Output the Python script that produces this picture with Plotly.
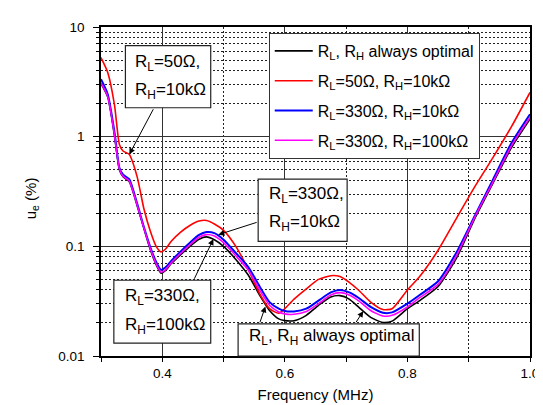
import math
import plotly.graph_objects as go

freq = [0.300, 0.311, 0.322, 0.330, 0.336, 0.346, 0.359, 0.370, 0.380, 0.390, 0.398,
        0.405, 0.415, 0.430, 0.445, 0.460, 0.472, 0.485, 0.500, 0.520, 0.540, 0.560,
        0.575, 0.590, 0.600, 0.615, 0.635, 0.655, 0.675, 0.690, 0.705, 0.720, 0.740,
        0.760, 0.775, 0.800, 0.820, 0.850, 0.880, 0.910, 0.940, 0.970, 1.000]

optimal = [3.05, 2.30, 1.02, 0.50, 0.43, 0.39, 0.235, 0.145, 0.095, 0.068, 0.057,
           0.060, 0.070, 0.084, 0.100, 0.116, 0.122, 0.115, 0.100, 0.076, 0.055, 0.035,
           0.026, 0.0218, 0.021, 0.021, 0.0235, 0.029, 0.0345, 0.0355, 0.033, 0.028, 0.0225,
           0.0202, 0.0208, 0.027, 0.032, 0.043, 0.078, 0.18, 0.38, 0.80, 1.45]

r50_h10k = [5.26, 3.85, 1.95, 0.85, 0.74, 0.69, 0.43, 0.22, 0.14, 0.100, 0.089,
            0.094, 0.112, 0.135, 0.155, 0.170, 0.172, 0.160, 0.140, 0.100, 0.062, 0.036,
            0.027, 0.0245, 0.027, 0.033, 0.041, 0.050, 0.054, 0.053, 0.047, 0.040, 0.031,
            0.0265, 0.027, 0.040, 0.053, 0.092, 0.18, 0.35, 0.65, 1.24, 2.53]

r330_h10k = [3.34, 2.44, 1.10, 0.52, 0.45, 0.41, 0.245, 0.150, 0.100, 0.072, 0.061,
             0.064, 0.074, 0.090, 0.108, 0.127, 0.135, 0.132, 0.115, 0.087, 0.065, 0.042,
             0.031, 0.027, 0.0257, 0.0255, 0.027, 0.032, 0.038, 0.040, 0.038, 0.034, 0.028,
             0.0248, 0.025, 0.030, 0.036, 0.048, 0.088, 0.19, 0.41, 0.88, 1.60]

r330_h100k = [3.08, 2.33, 1.04, 0.51, 0.435, 0.395, 0.238, 0.147, 0.097, 0.069, 0.058,
              0.061, 0.071, 0.086, 0.103, 0.121, 0.128, 0.124, 0.108, 0.082, 0.061, 0.039,
              0.029, 0.0252, 0.0242, 0.024, 0.0255, 0.030, 0.036, 0.0378, 0.036, 0.032, 0.026,
              0.0232, 0.0235, 0.028, 0.034, 0.045, 0.082, 0.185, 0.39, 0.83, 1.50]

series_names = ["R<sub>L</sub>, R<sub>H</sub> always optimal",
                "R<sub>L</sub>=50Ω, R<sub>H</sub>=10kΩ",
                "R<sub>L</sub>=330Ω, R<sub>H</sub>=10kΩ",
                "R<sub>L</sub>=330Ω, R<sub>H</sub>=100kΩ"]
series_colors = ["#000000", "#ff0000", "#0000ff", "#ff00ff"]
series_widths = [1.6, 1.6, 2.0, 1.6]

x_tickvals = [0.4, 0.6, 0.8, 1.0]
x_ticktext = ["0.4", "0.6", "0.8", "1.0"]
y_tickvals = [0.01, 0.1, 1, 10]
y_ticktext = ["0.01", "0.1", "1", "10"]

W, H = 543, 405
ML, MR, MT, MB = 93, 16, 19, 56
PW, PH = W - ML - MR, H - MT - MB
XR = (0.3, 1.0)
YR = (-2.0, 1.0)

FONT = "Arial, Liberation Sans, sans-serif"


def px2data(px, py):
    fx = XR[0] + (px - ML) / PW * (XR[1] - XR[0])
    fy = YR[1] - (py - MT) / PH * (YR[1] - YR[0])
    return fx, fy


def px2paper(px, py):
    return (px - ML) / PW, (H - MB - py) / PH


fig = go.Figure()
for name, vals, col, w in zip(series_names, [optimal, r50_h10k, r330_h10k, r330_h100k],
                              series_colors, series_widths):
    fig.add_trace(go.Scatter(x=freq, y=vals, mode="lines", name=name,
                             line=dict(color=col, width=w, shape="spline", smoothing=0.6),
                             legendgroup=name))

shapes = []
annotations = []

boxes = [
    ((117.7, 37.7, 204, 100),
     [("R<sub>L</sub>=50Ω,", 125, 55), ("R<sub>H</sub>=10kΩ", 125, 83)]),
    ((252, 171.5, 342, 234),
     [("R<sub>L</sub>=330Ω,", 261, 188), ("R<sub>H</sub>=10kΩ", 261, 216)]),
    ((106, 273, 204, 336),
     [("R<sub>L</sub>=330Ω,", 115, 290), ("R<sub>H</sub>=100kΩ", 115, 319)]),
    ((231.7, 316.7, 415, 349),
     [("R<sub>L</sub>, R<sub>H</sub> always optimal", 240.5, 330)]),
]
for (x0, y0, x1, y1), lines in boxes:
    a0 = px2paper(x0, y1)
    a1 = px2paper(x1, y0)
    shapes.append(dict(type="rect", xref="paper", yref="paper",
                       x0=a0[0], y0=a0[1], x1=a1[0], y1=a1[1],
                       line=dict(color="#222", width=1.2), fillcolor="white", layer="above"))
    for txt, tx, ty in lines:
        p = px2paper(tx, ty)
        annotations.append(dict(xref="paper", yref="paper", x=p[0], y=p[1], text=txt,
                                showarrow=False, xanchor="left", yanchor="middle",
                                font=dict(family=FONT, size=17, color="black")))

arrows = [
    ((146.7, 100), (121.7, 146.7)),
    ((252, 214.5), (211.7, 227.3)),
    ((186.7, 273), (206.7, 231.7)),
    ((253.3, 316.7), (259.3, 299.3)),
    ((350, 316.7), (358.3, 304)),
]
for (tx, ty), (hx, hy) in arrows:
    hxd, hyd = px2data(hx, hy)
    txd, tyd = px2data(tx, ty)
    annotations.append(dict(xref="x", yref="y", x=hxd, y=hyd, axref="x", ayref="y",
                            ax=txd, ay=tyd, text="", showarrow=True,
                            arrowhead=2, arrowsize=1.2, arrowwidth=1, arrowcolor="black"))

# y-axis title as a rotated annotation
yt = px2paper(23, 191)
annotations.append(dict(xref="paper", yref="paper", x=yt[0], y=yt[1], text="u<sub>e</sub> (%)",
                        textangle=-90, showarrow=False, xanchor="center", yanchor="middle",
                        font=dict(family=FONT, size=15, color="black")))

fig.update_layout(
    width=W, height=H,
    margin=dict(l=ML, r=MR, t=MT, b=MB),
    paper_bgcolor="white", plot_bgcolor="white",
    font=dict(family=FONT, size=13.5, color="black"),
    showlegend=True,
    legend=dict(x=px2paper(262.7, 0)[0], y=px2paper(0, 25)[1], xanchor="left", yanchor="top",
                bgcolor="white", bordercolor="#333", borderwidth=1,
                font=dict(family=FONT, size=16, color="black"),
                tracegroupgap=6, itemwidth=38),
    shapes=shapes,
    annotations=annotations,
    xaxis=dict(range=list(XR), tickvals=x_tickvals, ticktext=x_ticktext,
               showline=True, linecolor="black", linewidth=1.5, mirror=True,
               ticks="outside", ticklen=4, tickcolor="black",
               showgrid=True, gridcolor="#333", gridwidth=1,
               minor=dict(dtick=0.1, tick0=0.3, ticks="outside", ticklen=4, tickcolor="black",
                          showgrid=True, gridcolor="#222", griddash="2px,2px", gridwidth=1),
               title=dict(text="Frequency (MHz)", font=dict(family=FONT, size=15), standoff=10),
               zeroline=False, tickfont=dict(size=13.5)),
    yaxis=dict(type="log", range=list(YR), tickvals=y_tickvals, ticktext=y_ticktext,
               showline=True, linecolor="black", linewidth=1.5, mirror=True,
               ticks="outside", ticklen=6, tickcolor="black", ticklabelstandoff=6,
               showgrid=True, gridcolor="#333", gridwidth=1,
               minor=dict(dtick="D1", ticks="outside", ticklen=3, tickcolor="black",
                          showgrid=True, gridcolor="#222", griddash="2px,2px", gridwidth=1),
               zeroline=False, tickfont=dict(size=13.5)),
)

fig.write_html("out.html")
